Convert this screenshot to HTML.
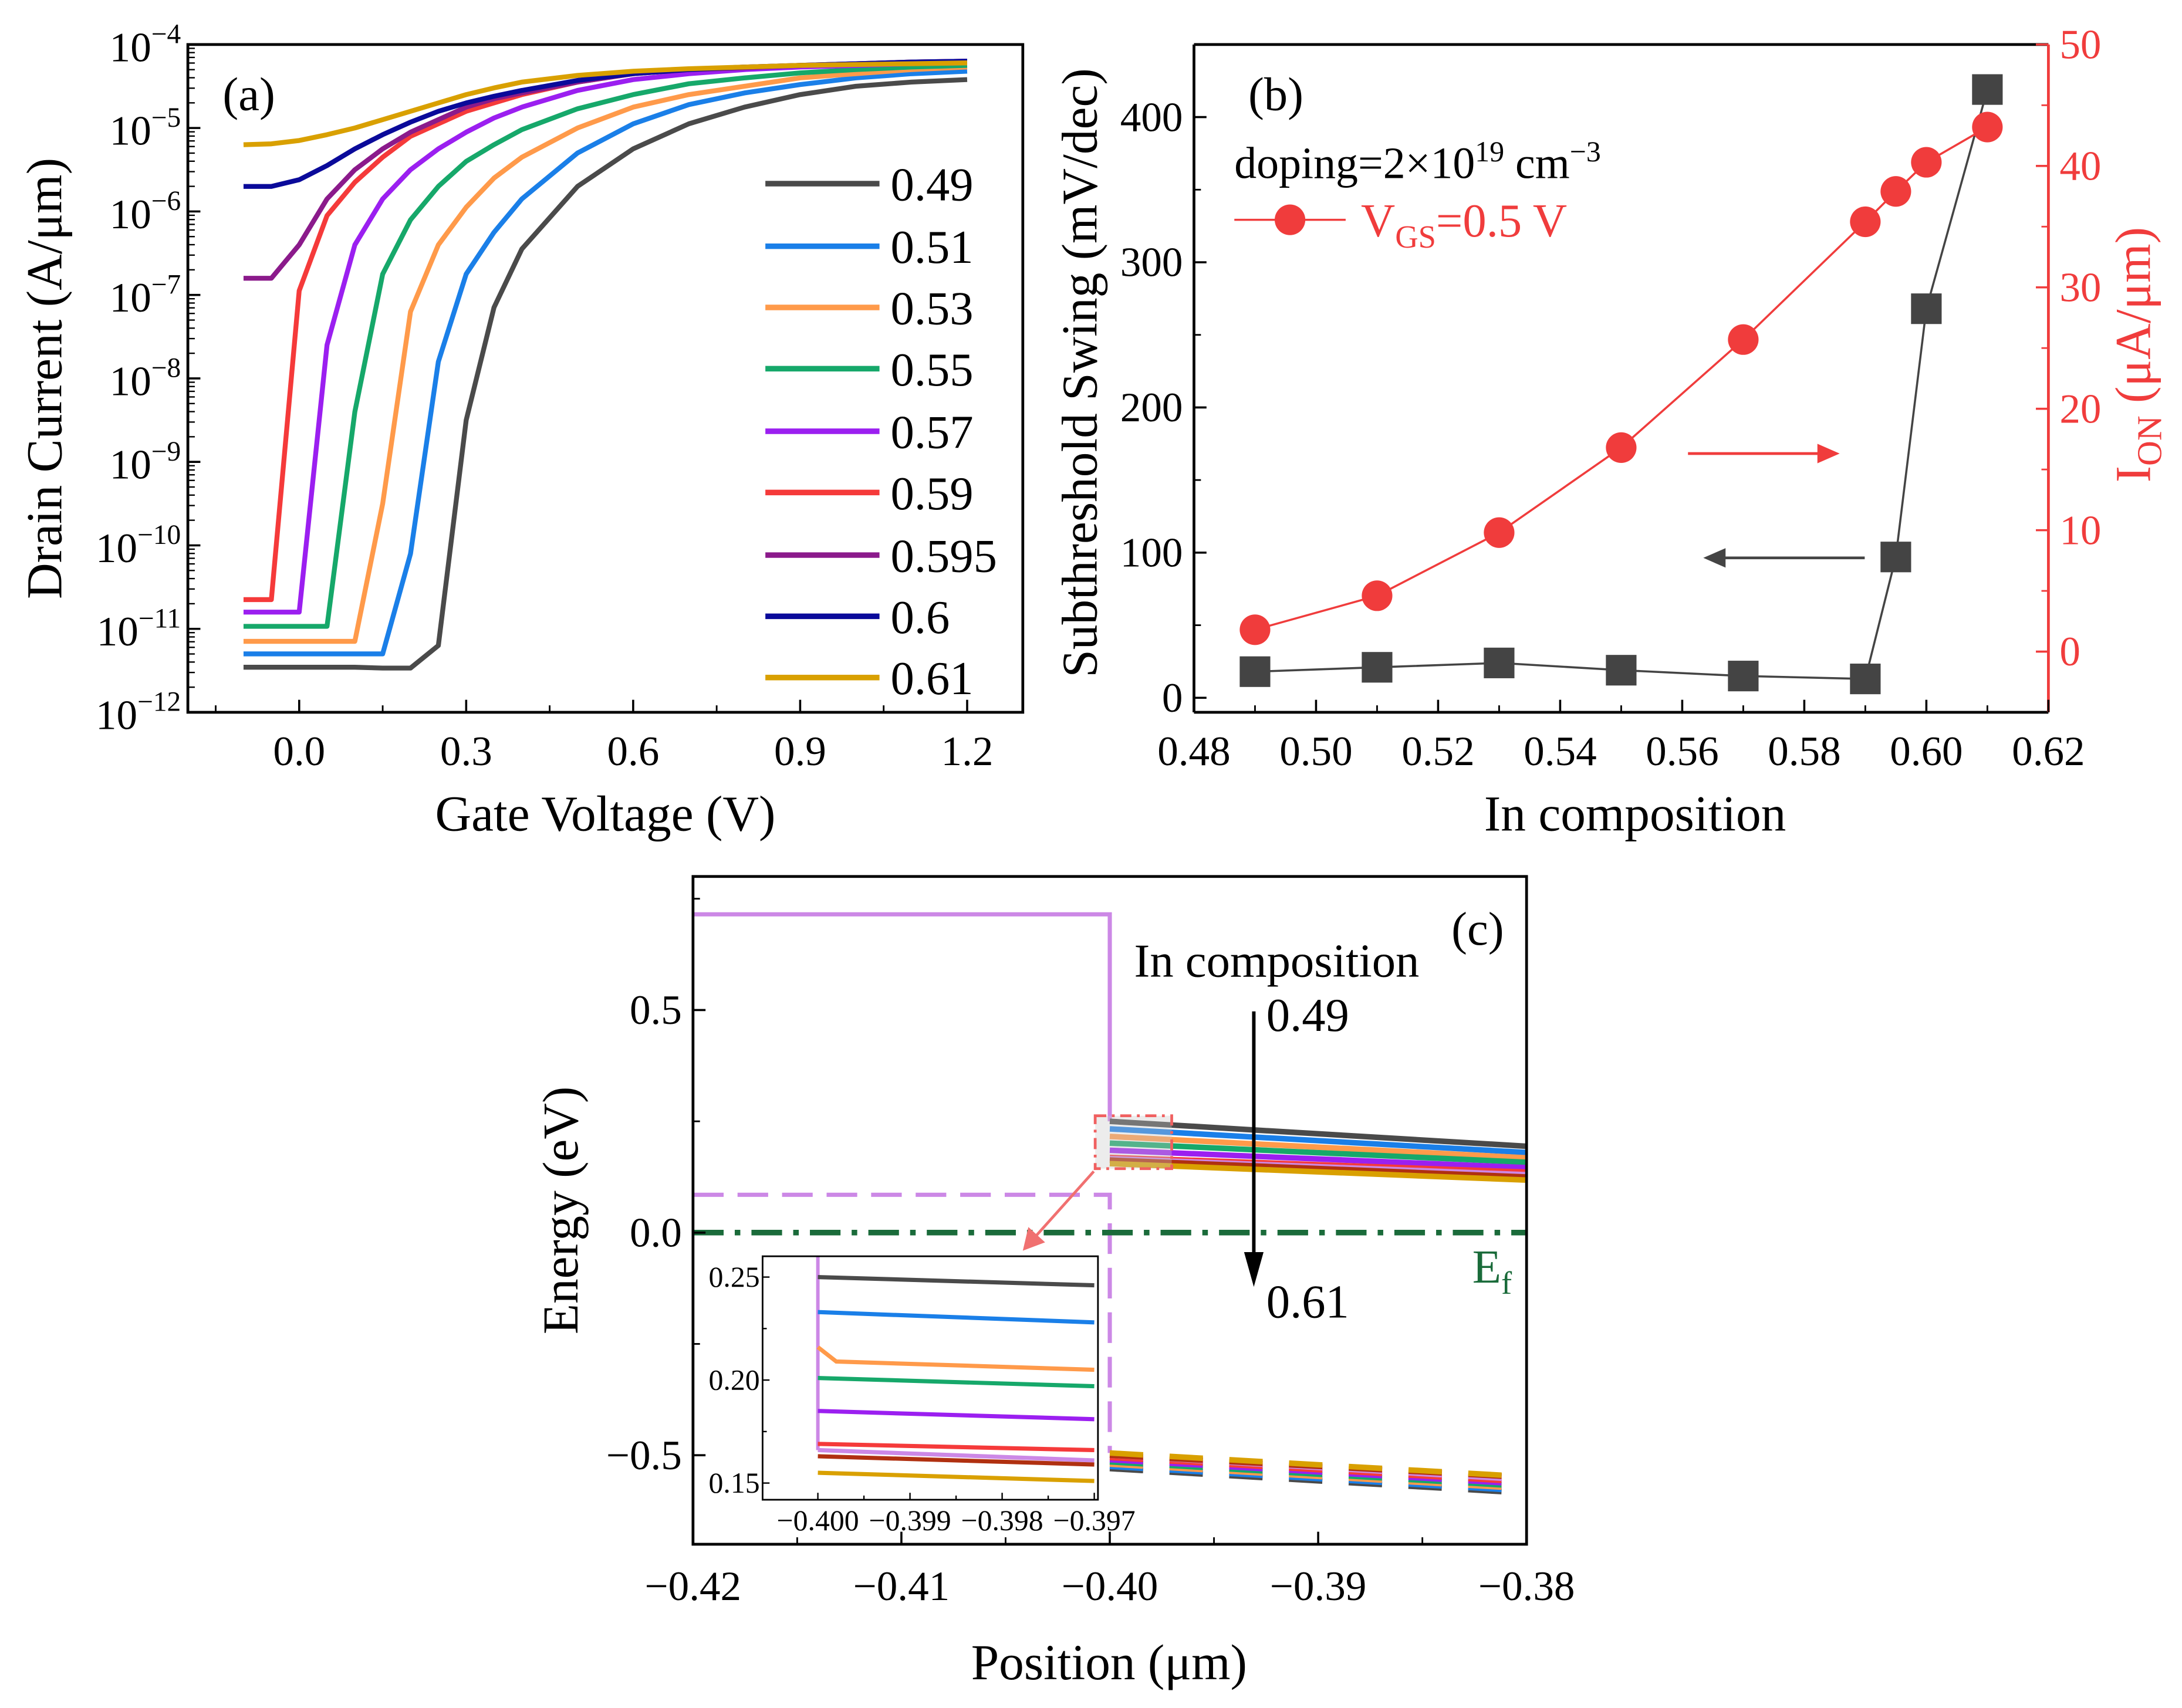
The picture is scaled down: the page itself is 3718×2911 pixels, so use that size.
<!DOCTYPE html>
<html><head><meta charset="utf-8"><style>
html,body{margin:0;padding:0;background:#fff;}
svg{display:block;font-family:"Liberation Serif",serif;}
</style></head><body>
<svg id="fig" width="3718" height="2911" viewBox="0 0 1568 1227.7" preserveAspectRatio="none" xmlns="http://www.w3.org/2000/svg"></svg>
<script>
// ---------- Panel (a) data ----------
const vgA = [-0.1,-0.05,0,0.05,0.1,0.15,0.2,0.25,0.3,0.35,0.4,0.5,0.6,0.7,0.8,0.9,1.0,1.1,1.2];
const compA = ["0.49","0.51","0.53","0.55","0.57","0.59","0.595","0.6","0.61"];
const logI_049 = [-11.46,-11.46,-11.46,-11.46,-11.46,-11.47,-11.47,-11.2,-8.5,-7.15,-6.45,-5.7,-5.25,-4.95,-4.75,-4.6,-4.5,-4.45,-4.42];
const logI_051 = [-11.3,-11.3,-11.3,-11.3,-11.3,-11.3,-10.1,-7.8,-6.75,-6.25,-5.85,-5.3,-4.95,-4.72,-4.58,-4.48,-4.4,-4.35,-4.32];
const logI_053 = [-11.15,-11.15,-11.15,-11.15,-11.15,-9.5,-7.2,-6.4,-5.95,-5.6,-5.35,-5.0,-4.75,-4.6,-4.5,-4.4,-4.35,-4.3,-4.27];
const logI_055 = [-10.97,-10.97,-10.97,-10.97,-8.4,-6.75,-6.1,-5.7,-5.4,-5.2,-5.02,-4.77,-4.6,-4.47,-4.4,-4.34,-4.3,-4.27,-4.25];
const logI_057 = [-10.8,-10.8,-10.8,-7.6,-6.4,-5.85,-5.5,-5.25,-5.05,-4.88,-4.75,-4.55,-4.42,-4.35,-4.3,-4.27,-4.25,-4.23,-4.22];
const logI_059 = [-10.65,-10.65,-6.95,-6.05,-5.65,-5.35,-5.1,-4.95,-4.8,-4.7,-4.6,-4.45,-4.35,-4.3,-4.27,-4.25,-4.23,-4.21,-4.2];
const logI_0595 = [-6.8,-6.8,-6.4,-5.85,-5.5,-5.25,-5.05,-4.9,-4.75,-4.65,-4.58,-4.45,-4.35,-4.3,-4.28,-4.25,-4.23,-4.21,-4.2];
const logI_060 = [-5.7,-5.7,-5.62,-5.45,-5.25,-5.08,-4.93,-4.8,-4.7,-4.62,-4.55,-4.43,-4.35,-4.3,-4.27,-4.25,-4.23,-4.21,-4.2];
const logI_061 = [-5.2,-5.19,-5.15,-5.08,-5.0,-4.9,-4.8,-4.7,-4.6,-4.52,-4.45,-4.37,-4.32,-4.29,-4.27,-4.25,-4.24,-4.23,-4.22];
const colorsA = ["#4a4a4a","#1a7fe8","#ff9a4a","#16a86a","#9b1ff0","#f53a3a","#8b1a8b","#0a0a9a","#d9a000"];
const xTicksA = [0,0.3,0.6,0.9,1.2];
const xTickLabelsA = ["0.0","0.3","0.6","0.9","1.2"];
const yDecadesA = [-12,-11,-10,-9,-8,-7,-6,-5,-4];

// ---------- Panel (b) data ----------
const compB = [0.49,0.51,0.53,0.55,0.57,0.59,0.595,0.60,0.61];
const ssB = [18,21,24,19,15,13,97,268,419];
const ionB = [1.8,4.6,9.8,16.8,25.7,35.4,37.9,40.3,43.2];
const xTicksB = [0.48,0.50,0.52,0.54,0.56,0.58,0.60,0.62];
const yTicksBL = [0,100,200,300,400];
const yTicksBR = [0,10,20,30,40,50];

// ---------- Panel (c) data ----------
const posC = [-0.40,-0.38];
const cbStart = [0.250,0.233,0.216,0.201,0.185,0.169,0.166,0.163,0.155];
const cbEnd   = [0.194,0.180,0.168,0.158,0.146,0.136,0.130,0.125,0.118];
const vbStart = [-0.53,-0.525,-0.52,-0.515,-0.51,-0.505,-0.50,-0.50,-0.495];
const vbEnd   = [-0.585,-0.58,-0.575,-0.57,-0.565,-0.56,-0.555,-0.55,-0.548];
const colorsC = ["#4a4a4a","#1a7fe8","#ff9a4a","#16a86a","#9b1ff0","#f53a3a","#cc88e6","#b03010","#d9a000"];
const barrierTop = 0.715, barrierEv = 0.085;
const xTicksC = [-0.42,-0.41,-0.40,-0.39,-0.38];
const xTickLabelsC = ["\u22120.42","\u22120.41","\u22120.40","\u22120.39","\u22120.38"];
const yTicksC = [-0.5,0,0.5];
const yTickLabelsC = ["\u22120.5","0.0","0.5"];
// inset
const insetPosStart = -0.400, insetPosEnd = -0.397;
const insetStart = [0.250,0.233,0.209,0.201,0.185,0.169,0.166,0.163,0.155];
const insetEnd   = [0.246,0.228,0.205,0.197,0.181,0.166,0.161,0.159,0.151];
const insetOrangeKink = [0.216,0.209];
const xTicksI = [-0.400,-0.399,-0.398,-0.397];
const xTickLabelsI = ["\u22120.400","\u22120.399","\u22120.398","\u22120.397"];
const yTicksI = [0.15,0.20,0.25];

const NS="http://www.w3.org/2000/svg";
const svg=document.getElementById('fig');
function el(tag,attrs,parent,text){const e=document.createElementNS(NS,tag);for(const k in attrs)e.setAttribute(k,attrs[k]);if(text!==undefined)e.textContent=text;(parent||svg).appendChild(e);return e;}
function lin(d0,d1,p0,p1){return v=>p0+(v-d0)/(d1-d0)*(p1-p0);}
function grp(name){const g=el('g',{},svg);return g;}
const TF=30, AF=36;

// ===== Panel A =====
const gA=grp('panel-a-chart');
const xa=lin(-0.2,1.3,135,735), ya=lin(-12,-4,512,32);
const seriesA=[logI_049,logI_051,logI_053,logI_055,logI_057,logI_059,logI_0595,logI_060,logI_061];
seriesA.forEach((s,i)=>{
  const p=el('polyline',{points:vgA.map((v,j)=>xa(v)+','+ya(s[j])).join(' '),fill:'none',stroke:colorsA[i],'stroke-width':3.5,'stroke-linejoin':'round'},gA);
  
  
});
el('rect',{x:135,y:32,width:600,height:480,fill:'none',stroke:'#000','stroke-width':2},gA);
xTicksA.forEach((t,i)=>{
  el('line',{x1:xa(t),x2:xa(t),y1:512,y2:503,stroke:'#000','stroke-width':1.5},gA);
  const tx=el('text',{x:xa(t),y:550,'font-size':TF,'text-anchor':'middle'},gA,xTickLabelsA[i]);
  
  
});
[-0.15,0.15,0.45,0.75,1.05].forEach(t=>el('line',{x1:xa(t),x2:xa(t),y1:512,y2:507,stroke:'#000','stroke-width':1.2},gA));
yDecadesA.forEach(d=>{
  el('line',{x1:135,x2:144,y1:ya(d),y2:ya(d),stroke:'#000','stroke-width':1.5},gA);
  if(d<-4){for(let m=2;m<=9;m++){const yy=ya(d+Math.log10(m));el('line',{x1:135,x2:140,y1:yy,y2:yy,stroke:'#000','stroke-width':1},gA);}}
  const t=el('text',{x:130,y:ya(d)+12,'font-size':TF,'text-anchor':'end'},gA);
  
  
  el('tspan',{},t,'10');
  el('tspan',{dy:-13,'font-size':20},t,'\u2212'+(-d));
});
let tt=el('text',{x:0,y:0,'font-size':AF,'text-anchor':'middle',transform:'translate(44,272) rotate(-90)'},gA,'Drain Current (A/\u03bcm)');

tt=el('text',{x:435,y:597,'font-size':AF,'text-anchor':'middle'},gA,'Gate Voltage (V)');

tt=el('text',{x:160,y:79,'font-size':34},gA,'(a)');

const legY=[132,177,221,265,310,354,399,443,487];
compA.forEach((c,i)=>{
  const g=el('g',{},gA);
  
  
  el('line',{x1:550,x2:632,y1:legY[i],y2:legY[i],stroke:colorsA[i],'stroke-width':4},g);
  el('text',{x:640,y:legY[i]+12,'font-size':34},g,c);
});

// ===== Panel B =====
const gB=grp('panel-b-chart');
const xb=lin(0.48,0.62,858,1472), ybl=lin(-10,450,512,32), ybr=lin(-5,50,512,32);
let pl=el('polyline',{points:compB.map((c,i)=>xb(c)+','+ybl(ssB[i])).join(' '),fill:'none',stroke:'#444','stroke-width':1.5},gB);

pl=el('polyline',{points:compB.map((c,i)=>xb(c)+','+ybr(ionB[i])).join(' '),fill:'none',stroke:'#f03c3c','stroke-width':1.5},gB);

compB.forEach((c,i)=>{
  const r=el('rect',{x:xb(c)-11,y:ybl(ssB[i])-11,width:22,height:22,fill:'#444'},gB);
  
  const ci=el('circle',{cx:xb(c),cy:ybr(ionB[i]),r:11,fill:'#f03c3c'},gB);
  
});
el('line',{x1:858,x2:1472,y1:32,y2:32,stroke:'#000','stroke-width':2},gB);
el('line',{x1:858,x2:1472,y1:512,y2:512,stroke:'#000','stroke-width':2},gB);
el('line',{x1:858,x2:858,y1:32,y2:512,stroke:'#000','stroke-width':2},gB);
el('line',{x1:1472,x2:1472,y1:32,y2:512,stroke:'#f03c3c','stroke-width':2},gB);
xTicksB.forEach((t,i)=>{
  el('line',{x1:xb(t),x2:xb(t),y1:512,y2:503,stroke:'#000','stroke-width':1.5},gB);
  if(i<xTicksB.length-1) el('line',{x1:xb(t+0.01),x2:xb(t+0.01),y1:512,y2:507,stroke:'#000','stroke-width':1.2},gB);
  const tx=el('text',{x:xb(t),y:550,'font-size':TF,'text-anchor':'middle'},gB,t.toFixed(2));
  
});
yTicksBL.forEach(t=>{
  el('line',{x1:858,x2:867,y1:ybl(t),y2:ybl(t),stroke:'#000','stroke-width':1.5},gB);
  el('line',{x1:858,x2:863,y1:ybl(t+50),y2:ybl(t+50),stroke:'#000','stroke-width':1.2},gB);
  const tx=el('text',{x:850,y:ybl(t)+10,'font-size':TF,'text-anchor':'end'},gB,String(t));
  
});
yTicksBR.forEach(t=>{
  el('line',{x1:1472,x2:1463,y1:ybr(t),y2:ybr(t),stroke:'#f03c3c','stroke-width':1.5},gB);
  if(t<50) el('line',{x1:1472,x2:1467,y1:ybr(t+5),y2:ybr(t+5),stroke:'#f03c3c','stroke-width':1.2},gB);
  const tx=el('text',{x:1480,y:ybr(t)+10,'font-size':TF,fill:'#f03c3c'},gB,String(t));
  
});
tt=el('text',{x:0,y:0,'font-size':AF,'text-anchor':'middle',transform:'translate(788,268) rotate(-90)'},gB,'Subthreshold Swing (mV/dec)');

tt=el('text',{x:0,y:0,'font-size':AF,'text-anchor':'middle',fill:'#f03c3c',transform:'translate(1545,255) rotate(-90)'},gB);

el('tspan',{},tt,'I');el('tspan',{dy:8,'font-size':25},tt,'ON');el('tspan',{dy:-8},tt,' (\u03bcA/\u03bcm)');
tt=el('text',{x:1175,y:597,'font-size':AF,'text-anchor':'middle'},gB,'In composition');

tt=el('text',{x:897,y:79,'font-size':34},gB,'(b)');

tt=el('text',{x:887,y:128,'font-size':32},gB);

el('tspan',{},tt,'doping=2\u00d710');el('tspan',{dy:-12,'font-size':21},tt,'19');el('tspan',{dy:12},tt,' cm');el('tspan',{dy:-12,'font-size':21},tt,'\u22123');
const lg=el('g',{},gB);
el('line',{x1:887,x2:967,y1:158,y2:158,stroke:'#f03c3c','stroke-width':1.5},lg);
el('circle',{cx:927,cy:158,r:11,fill:'#f03c3c'},lg);
tt=el('text',{x:978,y:170,'font-size':34,fill:'#f03c3c'},lg);
el('tspan',{},tt,'V');el('tspan',{dy:8,'font-size':23},tt,'GS');el('tspan',{dy:-8},tt,'=0.5 V');
let ar=el('g',{},gB);
el('line',{x1:1213,x2:1310,y1:326,y2:326,stroke:'#f03c3c','stroke-width':2},ar);
el('polygon',{points:'1322,326 1306,319 1306,333',fill:'#f03c3c'},ar);
ar=el('g',{},gB);
el('line',{x1:1340,x2:1236,y1:401,y2:401,stroke:'#444','stroke-width':2},ar);
el('polygon',{points:'1224,401 1240,394 1240,408',fill:'#444'},ar);

// ===== Panel C =====
const gC=grp('panel-c-chart');
const xc=lin(-0.42,-0.38,498,1097), yc=lin(-0.7,0.8,1110,630);
let bp=el('polyline',{points:[xc(-0.42)+','+yc(barrierTop),xc(-0.40)+','+yc(barrierTop),xc(-0.40)+','+yc(cbStart[0])].join(' '),fill:'none',stroke:'#cc88e6','stroke-width':3},gC);

bp=el('polyline',{points:[xc(-0.42)+','+yc(barrierEv),xc(-0.40)+','+yc(barrierEv),xc(-0.40)+','+yc(vbStart[8])].join(' '),fill:'none',stroke:'#cc88e6','stroke-width':3,'stroke-dasharray':'22,10'},gC);

cbStart.forEach((v,i)=>{
  const l=el('line',{x1:xc(posC[0]),y1:yc(v),x2:xc(posC[1]),y2:yc(cbEnd[i]),stroke:colorsC[i],'stroke-width':4},gC);
  
});
vbStart.forEach((v,i)=>{
  const l=el('line',{x1:xc(posC[0]),y1:yc(v),x2:xc(posC[1]),y2:yc(vbEnd[i]),stroke:colorsC[i],'stroke-width':4,'stroke-dasharray':'24,19'},gC);
  
});
let ef=el('line',{x1:498,x2:1097,y1:yc(0),y2:yc(0),stroke:'#1a6b3a','stroke-width':4,'stroke-dasharray':'22,8,4,8'},gC);

el('rect',{x:498,y:630,width:599,height:480,fill:'none',stroke:'#000','stroke-width':2},gC);
xTicksC.forEach((t,i)=>{
  el('line',{x1:xc(t),x2:xc(t),y1:1110,y2:1101,stroke:'#000','stroke-width':1.5},gC);
  if(i<4) el('line',{x1:xc(t+0.005),x2:xc(t+0.005),y1:1110,y2:1105,stroke:'#000','stroke-width':1.2},gC);
  const tx=el('text',{x:xc(t),y:1150,'font-size':TF,'text-anchor':'middle'},gC,xTickLabelsC[i]);
  
});
yTicksC.forEach((t,i)=>{
  el('line',{x1:498,x2:507,y1:yc(t),y2:yc(t),stroke:'#000','stroke-width':1.5},gC);
  el('line',{x1:498,x2:503,y1:yc(t+0.25),y2:yc(t+0.25),stroke:'#000','stroke-width':1.2},gC);
  const tx=el('text',{x:490,y:yc(t)+10,'font-size':TF,'text-anchor':'end'},gC,yTickLabelsC[i]);
  
});
tt=el('text',{x:0,y:0,'font-size':AF,'text-anchor':'middle',transform:'translate(415,870) rotate(-90)'},gC,'Energy (eV)');

tt=el('text',{x:797,y:1207,'font-size':AF,'text-anchor':'middle'},gC,'Position (\u03bcm)');

tt=el('text',{x:1043,y:679,'font-size':34},gC,'(c)');

tt=el('text',{x:815,y:702,'font-size':34},gC,'In composition');

tt=el('text',{x:910,y:741,'font-size':34},gC,'0.49');

tt=el('text',{x:910,y:947,'font-size':34},gC,'0.61');

ar=el('g',{},gC);
el('line',{x1:901,x2:901,y1:727,y2:905,stroke:'#000','stroke-width':2.5},ar);
el('polygon',{points:'901,925 894,900 908,900',fill:'#000'},ar);
tt=el('text',{x:1058,y:922,'font-size':34,fill:'#1a6b3a'},gC);

el('tspan',{},tt,'E');el('tspan',{dy:8,'font-size':23},tt,'f');
let zb=el('rect',{x:787,y:802,width:55,height:38,fill:'rgba(200,200,200,0.35)',stroke:'#f06060','stroke-width':2,'stroke-dasharray':'8,4,2,4'},gC);

ar=el('g',{},gC);
el('line',{x1:786,x2:743,y1:842,y2:890,stroke:'#f07070','stroke-width':2},ar);
el('polygon',{points:'735,899 739,882 751,893',fill:'#f07070'},ar);

// inset
const gI=el('g',{},gC);
const xi=lin(-0.4006,-0.39696,548,789), yi=lin(0.1419,0.2601,1078,903);
el('rect',{x:548,y:903,width:241,height:175,fill:'#fff'},gI);
let iv=el('line',{x1:xi(-0.4),x2:xi(-0.4),y1:903,y2:yi(insetStart[6]),stroke:'#cc88e6','stroke-width':2.5},gI);

insetStart.forEach((v,i)=>{
  let l;
  if(i===2){
    l=el('polyline',{points:[xi(insetPosStart)+','+yi(insetOrangeKink[0]),xi(-0.3998)+','+yi(insetOrangeKink[1]),xi(insetPosEnd)+','+yi(insetEnd[i])].join(' '),fill:'none',stroke:colorsC[i],'stroke-width':3},gI);
  } else {
    l=el('line',{x1:xi(insetPosStart),y1:yi(v),x2:xi(insetPosEnd),y2:yi(insetEnd[i]),stroke:colorsC[i],'stroke-width':3},gI);
  }
  
});
el('rect',{x:548,y:903,width:241,height:175,fill:'none',stroke:'#000','stroke-width':1.2},gI);
xTicksI.forEach((t,i)=>{
  el('line',{x1:xi(t),x2:xi(t),y1:1078,y2:1073,stroke:'#000','stroke-width':1},gI);
  if(i<3) el('line',{x1:xi(t+0.0005),x2:xi(t+0.0005),y1:1078,y2:1075,stroke:'#000','stroke-width':1},gI);
  const tx=el('text',{x:xi(t),y:1100,'font-size':21,'text-anchor':'middle'},gI,xTickLabelsI[i]);
  
});
yTicksI.forEach((t,i)=>{
  el('line',{x1:548,x2:553,y1:yi(t),y2:yi(t),stroke:'#000','stroke-width':1},gI);
  if(i<2) el('line',{x1:548,x2:551,y1:yi(t+0.025),y2:yi(t+0.025),stroke:'#000','stroke-width':1},gI);
  const tx=el('text',{x:546,y:yi(t)+7,'font-size':21,'text-anchor':'end'},gI,t.toFixed(2));
  
});
</script>
</body></html>
